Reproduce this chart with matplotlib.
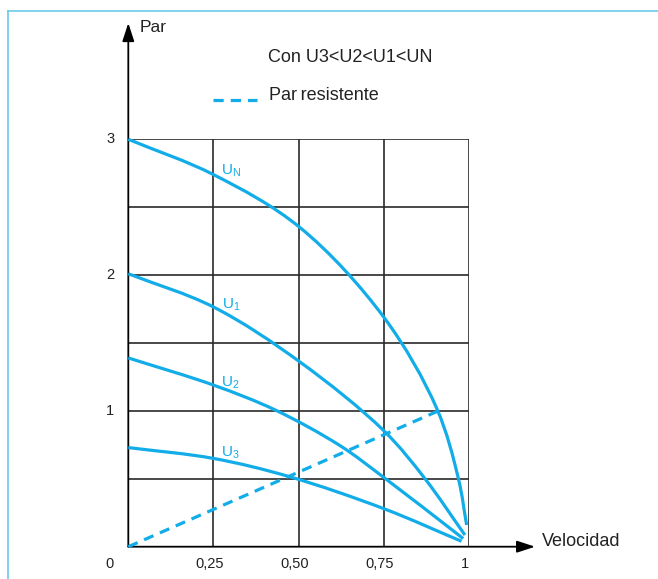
import numpy as np
import matplotlib.pyplot as plt
from matplotlib.lines import Line2D
from matplotlib.path import Path
from matplotlib.patches import PathPatch
from matplotlib import transforms

plt.rcParams['font.family'] = ['Liberation Sans', 'DejaVu Sans']
plt.rcParams['mathtext.fontset'] = 'custom'
plt.rcParams['mathtext.rm'] = 'Liberation Sans'

# curves: (velocidad, par)
un_x = [0.0, 0.25, 0.504, 0.75, 0.905, 0.969, 0.993]
un_y = [3.0, 2.74, 2.35, 1.69, 1.02, 0.50, 0.16]
u1_x = [0.0, 0.25, 0.504, 0.75, 0.871, 0.988]
u1_y = [2.01, 1.765, 1.36, 0.854, 0.50, 0.086]
u2_x = [0.0, 0.25, 0.431, 0.621, 0.75, 0.983]
u2_y = [1.39, 1.19, 1.007, 0.745, 0.51, 0.06]
u3_x = [0.0, 0.25, 0.474, 0.75, 0.978]
u3_y = [0.73, 0.65, 0.515, 0.28, 0.04]
load_x = [0.0, 0.91]
load_y = [0.0, 1.0]

curve_labels = [r'U$_{\mathrm{N}}$', r'U$_{\mathrm{1}}$', r'U$_{\mathrm{2}}$', r'U$_{\mathrm{3}}$']
label_pos = [(0.272, 2.77), (0.275, 1.78), (0.272, 1.21), (0.272, 0.69)]

x_ticks = [0.25, 0.5, 0.75, 1.0]
x_tick_labels = ['0,25', '0,50', '0,75', '1']
y_ticks = [1, 2, 3]
y_tick_labels = ['1', '2', '3']
grid_x = [0.25, 0.5, 0.75, 1.0]
grid_y = [0.5, 1.0, 1.5, 2.0, 2.5, 3.0]

BLUE = '#12ade8'
INK = '#222222'
W, H = 658, 579
PX_X, PX_Y = 340.7, 135.8   # pixels per data unit


def smooth_path(xs, ys, alpha=0.5):
    # centripetal Catmull-Rom through the read points, as cubic Bezier segments
    s = PX_Y / PX_X
    P = np.column_stack([xs, np.asarray(ys) * s])
    P = np.vstack([2 * P[0] - P[1], P, 2 * P[-1] - P[-2]])
    verts = [P[1]]
    codes = [Path.MOVETO]
    for i in range(1, len(P) - 2):
        p0, p1, p2, p3 = P[i - 1], P[i], P[i + 1], P[i + 2]
        d1 = np.linalg.norm(p1 - p0) ** alpha
        d2 = np.linalg.norm(p2 - p1) ** alpha
        d3 = np.linalg.norm(p3 - p2) ** alpha
        b1 = (d1 ** 2 * p2 - d2 ** 2 * p0 + (2 * d1 ** 2 + 3 * d1 * d2 + d2 ** 2) * p1) / (3 * d1 * (d1 + d2))
        b2 = (d3 ** 2 * p1 - d2 ** 2 * p3 + (2 * d3 ** 2 + 3 * d3 * d2 + d2 ** 2) * p2) / (3 * d3 * (d3 + d2))
        verts += [b1, b2, p2]
        codes += [Path.CURVE4] * 3
    verts = np.array(verts)
    verts[:, 1] /= s
    return Path(verts, codes)


fig = plt.figure(figsize=(W / 100, H / 100), dpi=100)
ax = fig.add_axes([128.3 / W, (H - 546.7) / H, PX_X / W, 3 * PX_Y / H])
ax.set_xlim(0, 1)
ax.set_ylim(0, 3)
ax.axis('off')

# frame lines of the original figure
fig.add_artist(Line2D([8 / W, 1], [1 - 11 / H, 1 - 11 / H], color='#6cc8ee', lw=1.2))
fig.add_artist(Line2D([8 / W, 8 / W], [0, 1 - 11 / H], color='#6cc8ee', lw=1.2))

# grid
for gx in grid_x:
    ax.plot([gx, gx], [0, 3], color='#2a2a2a', lw=1.2, solid_capstyle='butt', zorder=1)
for gy in grid_y:
    ax.plot([0, 1], [gy, gy], color='#2a2a2a', lw=1.2, solid_capstyle='butt', zorder=1)

# axes with arrows
arrow = dict(arrowstyle='-|>,head_length=1.1,head_width=0.36', color='black',
             lw=1.3, shrinkA=0, shrinkB=0, mutation_scale=10)
ax.annotate('', xy=(1.194, 0), xytext=(0, 0), arrowprops=arrow, annotation_clip=False)
ax.annotate('', xy=(0, 3.856), xytext=(0, 0), arrowprops=arrow, annotation_clip=False)

# curves
for cx, cy in [(un_x, un_y), (u1_x, u1_y), (u2_x, u2_y), (u3_x, u3_y)]:
    ax.add_patch(PathPatch(smooth_path(cx, cy), facecolor='none', edgecolor=BLUE,
                           lw=2.3, capstyle='butt', clip_on=False, zorder=3))
ax.plot(load_x, load_y, color=BLUE, lw=2.3, ls=(0, (3.2, 2.2)), clip_on=False, zorder=3)

for lab, (lx, ly) in zip(curve_labels, label_pos):
    ax.text(lx, ly, lab, color=BLUE, fontsize=11, ha='left', va='center', zorder=4)

# tick labels
xoff = transforms.offset_copy(ax.transData, fig, x=-4, y=-17, units='dots')
for t, lab in zip(x_ticks, x_tick_labels):
    ax.text(t, 0, lab, transform=xoff, fontsize=10.5, color=INK, ha='center', va='center')
ax.text(0, 0, '0', transform=transforms.offset_copy(ax.transData, fig, x=-19, y=-17, units='dots'),
        fontsize=10.5, color=INK, ha='center', va='center')
yoff = transforms.offset_copy(ax.transData, fig, x=-18, y=0, units='dots')
for t, lab in zip(y_ticks, y_tick_labels):
    ax.text(0, t, lab, transform=yoff, fontsize=10.5, color=INK, ha='center', va='center')

# axis titles and notes
fig.text(140 / W, 1 - 28 / H, 'Par', fontsize=12.5, color=INK, ha='left', va='center')
fig.text(542 / W, 1 - 541 / H, 'Velocidad', fontsize=13, color=INK, ha='left', va='center')
fig.text(268 / W, 1 - 58 / H, 'Con U3<U2<U1<UN', fontsize=13, color=INK, ha='left', va='center')
fig.add_artist(Line2D([213 / W, 257 / W], [1 - 100 / H, 1 - 100 / H], color=BLUE, lw=2.3,
                      ls=(0, (3.2, 2.2))))
fig.text(269 / W, 1 - 95 / H, 'Par\u2009resistente', fontsize=13, color=INK, ha='left', va='center')

fig.savefig('out.png', dpi=100)
